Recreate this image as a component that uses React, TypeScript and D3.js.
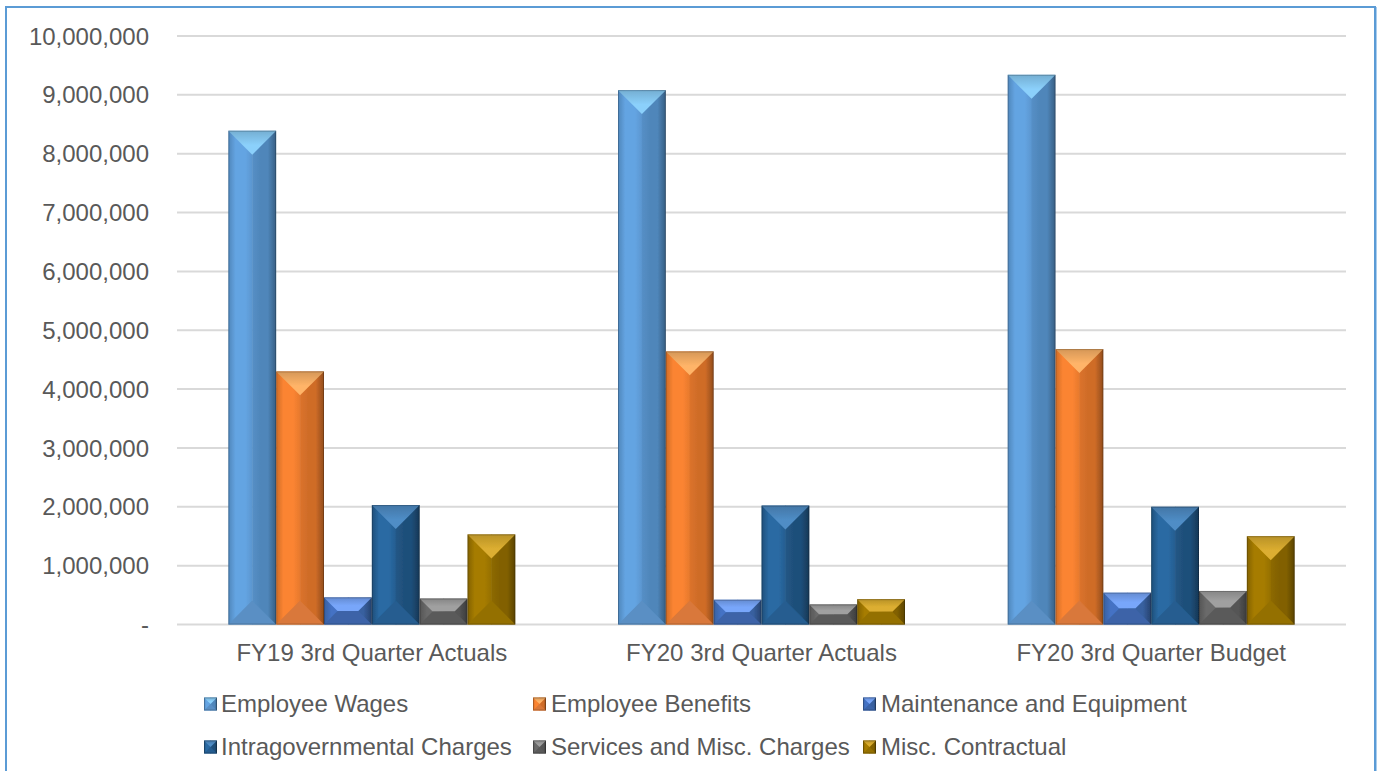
import React from "react";
import * as d3 from "d3";

const categories = ["FY19 3rd Quarter Actuals", "FY20 3rd Quarter Actuals", "FY20 3rd Quarter Budget"];
const seriesNames = ["Employee Wages", "Employee Benefits", "Maintenance and Equipment", "Intragovernmental Charges", "Services and Misc. Charges", "Misc. Contractual"];
const wages = [8390000, 9080000, 9340000];
const benefits = [4300000, 4640000, 4680000];
const maintenance = [460000, 420000, 540000];
const intragov = [2030000, 2020000, 2000000];
const services = [440000, 340000, 570000];
const contractual = [1530000, 430000, 1500000];
const seriesValues = [wages, benefits, maintenance, intragov, services, contractual];
const yTicks = [0, 1, 2, 3, 4, 5, 6, 7, 8, 9, 10].map((d) => d * 1000000);

const palette = [
  { l: "#64a4e2", r: "#4f86ba", top: "#8bd0fb", bot: "#5a8fc4" },
  { l: "#fb8431", r: "#cf6c28", top: "#ffb468", bot: "#d9783a" },
  { l: "#4472c4", r: "#38609f", top: "#78a6fa", bot: "#3c64a8" },
  { l: "#2a6aa3", r: "#1f4f7a", top: "#4f8dc6", bot: "#255d90" },
  { l: "#6a6a6a", r: "#555555", top: "#a0a0a0", bot: "#5a5a5a" },
  { l: "#a67c00", r: "#826100", top: "#dcae30", bot: "#947000" },
];

const W = 1378, H = 771;
const x0 = d3.scaleBand().domain(categories).range([177, 1346]);
const y = d3.scaleLinear().domain([0, 10000000]).range([624.5, 36]);
const fmt = d3.format(",");
const FONT = "'Liberation Sans', Arial, sans-serif";

function Bar({ x, w, top, bottom, i }: { x: number; w: number; top: number; bottom: number; i: number }) {
  const h = bottom - top;
  const d = Math.min(w / 2, h / 2);
  const cx = x + w / 2;
  const xr = x + w;
  const c = palette[i];
  const pts = (a: number[][]) => a.map((p) => p.join(",")).join(" ");
  const topPts = d < w / 2 ? [[x, top], [xr, top], [xr - d, top + d], [x + d, top + d]] : [[x, top], [xr, top], [cx, top + d]];
  const botPts = d < w / 2 ? [[x, bottom], [xr, bottom], [xr - d, bottom - d], [x + d, bottom - d]] : [[x, bottom], [xr, bottom], [cx, bottom - d]];
  return (
    <g>
      <rect x={x} y={top} width={w / 2 + 0.5} height={h} fill={`url(#L${i})`} />
      <rect x={cx} y={top} width={w / 2} height={h} fill={`url(#R${i})`} />
      <polygon points={pts(topPts)} fill={`url(#T${i})`} />
      <polygon points={pts(botPts)} fill={c.bot} />
      <rect x={x + 0.5} y={top + 0.5} width={w - 1} height={h - 1} fill="none" stroke="#000" strokeOpacity={0.2} />
    </g>
  );
}

export default function App() {
  const groupW = 287;
  const barW = groupW / 6;
  const legendRows = [
    { y: 703.5, items: [[0, 204], [1, 533], [2, 863]] },
    { y: 746.5, items: [[3, 204], [4, 533], [5, 863]] },
  ];
  return (
    <svg width={W} height={H} style={{ position: "absolute", left: 0, top: 0, background: "#fff" }} fontFamily={FONT}>
      <defs>
        <filter id="soft" x="-5%" y="-5%" width="110%" height="110%">
          <feGaussianBlur stdDeviation="0.6" />
        </filter>
        {palette.map((c, i) => (
          <React.Fragment key={i}>
            <linearGradient id={`L${i}`} x1="0" x2="1" y1="0" y2="0">
              <stop offset="0" stopColor={c.r} />
              <stop offset="0.3" stopColor={c.l} />
              <stop offset="0.7" stopColor={c.l} />
              <stop offset="1" stopColor={d3.interpolateRgb(c.l, c.r)(0.5)} />
            </linearGradient>
            <linearGradient id={`R${i}`} x1="0" x2="1" y1="0" y2="0">
              <stop offset="0" stopColor={d3.interpolateRgb(c.l, c.r)(0.7)} />
              <stop offset="0.35" stopColor={c.r} />
              <stop offset="0.65" stopColor={c.r} />
              <stop offset="1" stopColor={d3.color(c.r)!.darker(1).formatHex()} />
            </linearGradient>
            <linearGradient id={`T${i}`} x1="0" x2="0" y1="0" y2="1">
              <stop offset="0" stopColor={d3.color(c.top)!.darker(0.5).formatHex()} />
              <stop offset="0.6" stopColor={c.top} />
              <stop offset="1" stopColor={c.top} />
            </linearGradient>
          </React.Fragment>
        ))}
      </defs>
      <rect x={6} y={7} width={1369} height={790} fill="#fff" stroke="#5b9bd5" strokeWidth={2} />
      <line x1={1376.5} x2={1376.5} y1={7} y2={H} stroke="#a9cdee" strokeWidth={1} />
      {yTicks.map((t) => (
        <g key={t}>
          <line x1={177} x2={1346} y1={y(t)} y2={y(t)} stroke="#d9d9d9" strokeWidth={2} />
          <text x={149} y={y(t)} dy="0.36em" textAnchor="end" fontSize={24} fill="#595959">
            {t === 0 ? "-" : fmt(t)}
          </text>
        </g>
      ))}
      {categories.map((cat, ci) => {
        const bx = x0(cat)! + (x0.bandwidth() - groupW) / 2;
        return (
          <g key={cat}>
            <g filter="url(#soft)">
              {seriesValues.map((vals, i) => (
                <Bar key={i} i={i} x={bx + i * barW} w={barW} top={y(vals[ci])} bottom={y(0)} />
              ))}
            </g>
            <text x={x0(cat)! + x0.bandwidth() / 2} y={652.5} dy="0.36em" textAnchor="middle" fontSize={24} fill="#595959">
              {cat}
            </text>
          </g>
        );
      })}
      {legendRows.map((row) =>
        row.items.map(([i, lx]) => (
          <g key={i}>
            <Bar i={i} x={lx} w={13} top={row.y - 6} bottom={row.y + 7} />
            <text x={lx + (i === 0 || i === 3 ? 17 : 18)} y={row.y} dy="0.36em" fontSize={24} fill="#595959">
              {seriesNames[i]}
            </text>
          </g>
        ))
      )}
    </svg>
  );
}
